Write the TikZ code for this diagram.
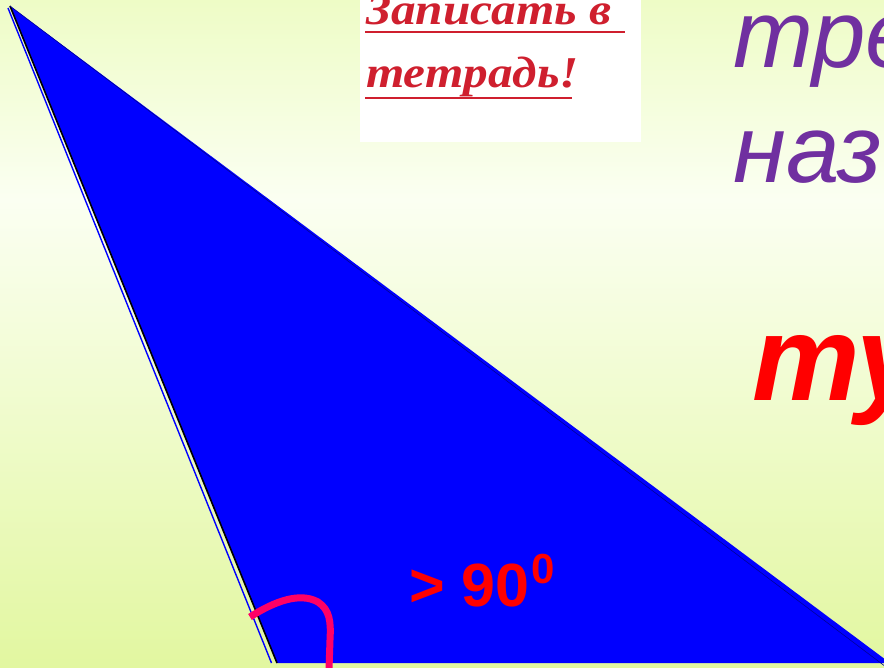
\documentclass[tikz,border=0pt]{standalone}
\usepackage{fontspec}
\setmainfont{Liberation Sans}
\newfontfamily\serifit{Liberation Serif}
\definecolor{bgtop}{HTML}{EEFCC6}
\definecolor{bgmid}{HTML}{FBFFF2}
\definecolor{bgbot}{HTML}{E2F7A0}
\definecolor{tripurple}{HTML}{7030A0}
\definecolor{notered}{HTML}{CF1F2E}
\definecolor{arcpink}{HTML}{FF0066}
\tikzset{
  txt/.style={inner sep=0pt, anchor=base west},
  purp/.style={txt, text=tripurple, font=\fontsize{96}{96}\selectfont\itshape},
  note/.style={txt, text=notered, xscale=1.12, font=\fontsize{44}{44}\serifit\bfseries\itshape},
  uline/.style={notered, line width=1.6pt},
}
\begin{document}
\begin{tikzpicture}[x=1pt,y=-1pt]
\useasboundingbox (0,0) rectangle (884,668);
\clip (0,0) rectangle (884,668);
% background
\shade[top color=bgtop, bottom color=bgmid] (0,0) rectangle (884,200);
\shade[top color=bgmid, bottom color=bgbot] (0,199.5) rectangle (884,668);
% note box
\fill[white] (360,0) rectangle (641,142);
\node[note] (n1) at (366,25) {Записать в};
\node[note] (n2) at (366,88) {тетрадь!};
\draw[uline] (365,32) -- (625,32);
\draw[uline] (365,98) -- (572,98);
% triangle
\fill[blue] (10,6) -- (277,663) -- (890,663) -- cycle;
\draw[black, line width=1.6pt] (10,6) -- (277,663);
\draw[blue, line width=1.4pt] (8,8) -- (271.5,663);
\draw[blue!60!black, line width=0.6pt] (10,6) -- (890,670);
% angle mark
\draw[arcpink, line width=7pt] (250,617) .. controls (275,601) and (300,592) .. (318,602)
  .. controls (330,610) and (331,622) .. (330,640) -- (329,670);
% labels
\node[txt, text=red, font=\fontsize{61}{61}\selectfont\bfseries] (deg) at (409,606) {> 90};
\node[txt, text=red, font=\fontsize{42}{42}\selectfont\bfseries] (sup) at (531,583) {0};
% right texts
\node[purp] (t1) at (733,68) {тре};
\node[purp] (t2) at (733,183) {наз};
\node[txt, text=red, font=\fontsize{121}{121}\selectfont\bfseries\itshape] (t3) at (752,400) {ту};
\end{tikzpicture}
\end{document}
